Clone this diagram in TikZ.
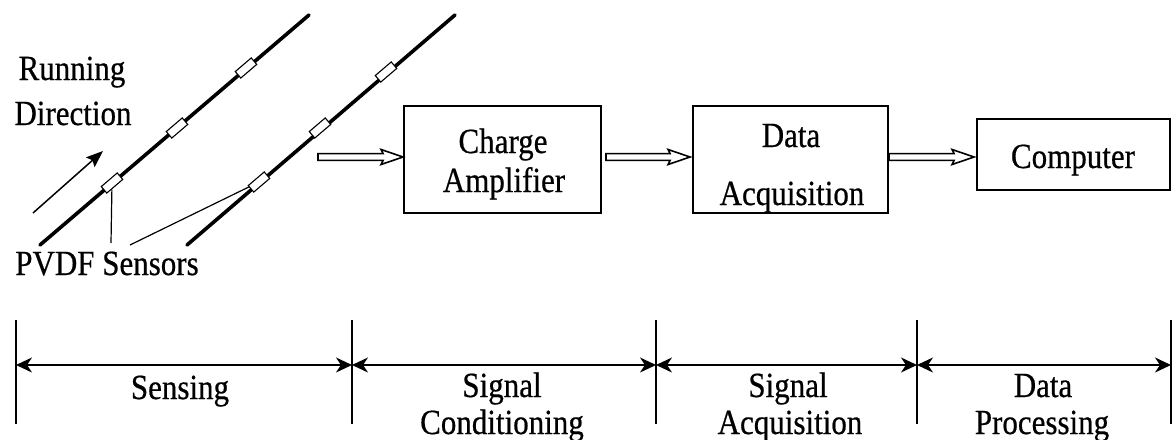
\documentclass[tikz,border=0pt]{standalone}
\usepackage{graphicx}
\usepackage{fontspec}
\setmainfont{Liberation Serif}[FakeBold=0.6]
\usetikzlibrary{arrows.meta,calc}
% labels are set a little taller than the font's natural shape
\newcommand{\tallsans}[1]{\scalebox{1}[1.14]{#1}}
\begin{document}
\begin{tikzpicture}[x=1pt,y=-1pt,
  every node/.style={font=\fontsize{31}{37}\selectfont, inner sep=0pt},
  txt/.style={anchor=base},
  rail/.style={line width=3.6pt, line cap=round},
  sensor/.style={draw, fill=white, line width=1.1pt, minimum width=21pt,
    minimum height=8.5pt, rotate=40.5},
  leader/.style={line width=1.2pt},
  dirarrow/.style={line width=1.5pt, -{Stealth[length=17pt,width=13pt,inset=3pt]}},
  block/.style={draw, line width=1.9pt},
  hollow/.style={line width=1.6pt, fill=white, to path={
    let \p1=(\tikztostart), \p2=(\tikztotarget) in
    (\x1,\y1+3.4pt) -- (\x2-20pt,\y1+3.4pt) -- (\x2-22pt,\y1+7.5pt) -- (\x2,\y1)
    -- (\x2-22pt,\y1-7.5pt) -- (\x2-20pt,\y1-3.4pt) -- (\x1,\y1-3.4pt) -- cycle}},
  tick/.style={line width=2pt},
  span/.style={line width=2pt,
    {Stealth[length=16pt,width=15pt,inset=5pt]}-{Stealth[length=16pt,width=15pt,inset=5pt]}},
]
\useasboundingbox (0,0) rectangle (1175,439);

% rails
\coordinate (r1a) at (40,245);  \coordinate (r1b) at (309,15);
\coordinate (r2a) at (187,245); \coordinate (r2b) at (455,15);
\draw[rail] (r1a) -- (r1b);
\draw[rail] (r2a) -- (r2b);

% PVDF sensors on the rails
\node[sensor] (s11) at (112,183) {};
\node[sensor] (s12) at (177,128) {};
\node[sensor] (s13) at (246,68) {};
\node[sensor] (s21) at (259,182) {};
\node[sensor] (s22) at (320,128) {};
\node[sensor] (s23) at (386,72) {};

% running direction
\node[txt] (run1) at (72,80) {\tallsans{Running}};
\node[txt] (run2) at (73,125) {\tallsans{Direction}};
\coordinate (da0) at (33,213); \coordinate (da1) at (103,151);
\draw[dirarrow] (da0) -- (da1);

% sensor callout
\node[txt] (pvdf) at (107,275) {\tallsans{PVDF Sensors}};
\coordinate (l1) at (111,243);
\coordinate (l2) at (130,245);
\draw[leader] (s11) -- (l1);
\draw[leader] (l2) -- (s21);

% processing chain
\node[block, minimum width=197pt, minimum height=107pt] (ca) at (502.5,159.5) {};
\node[txt] (ca1) at (503,153) {\tallsans{Charge}};
\node[txt] (ca2) at (504,192) {\tallsans{Amplifier}};

\node[block, minimum width=195pt, minimum height=107pt] (dq) at (790.5,159.5) {};
\node[txt] (dq1) at (791,147) {\tallsans{Data}};
\node[txt] (dq2) at (792,205) {\tallsans{Acquisition}};

\node[block, minimum width=193pt, minimum height=71pt] (pc) at (1073.5,154.5) {};
\node[txt] (pc1) at (1073,168) {\tallsans{Computer}};

\coordinate (row) at (0,157);
\coordinate (h1s) at (318,157);
\coordinate (h1e) at (ca.west |- row);
\coordinate (h2s) at ($(ca.east |- row)+(4,0)$);
\coordinate (h2e) at ($(dq.west |- row)+(-2,0)$);
\coordinate (h3s) at (dq.east |- row);
\coordinate (h3e) at ($(pc.west |- row)+(-2,0)$);
\draw[hollow] (h1s) to (h1e);
\draw[hollow] (h2s) to (h2e);
\draw[hollow] (h3s) to (h3e);

% stage spans
\foreach \i/\x in {0/16,1/352,2/656,3/917,4/1171}{
  \coordinate (t\i) at (\x,320);
  \coordinate (b\i) at (\x,424);
  \coordinate (m\i) at (\x,365);
  \draw[tick] (t\i) -- (b\i);
}
\draw[span] (m0) -- (m1);
\draw[span] (m1) -- (m2);
\draw[span] (m2) -- (m3);
\draw[span] (m3) -- (m4);

\node[txt] (st1) at (180,399) {\tallsans{Sensing}};
\node[txt] (st2a) at (502,397) {\tallsans{Signal}};
\node[txt] (st2b) at (502,434) {\tallsans{Conditioning}};
\node[txt] (st3a) at (788,397) {\tallsans{Signal}};
\node[txt] (st3b) at (790,434) {\tallsans{Acquisition}};
\node[txt] (st4a) at (1043,397) {\tallsans{Data}};
\node[txt] (st4b) at (1042,434) {\tallsans{Processing}};
\end{tikzpicture}
\end{document}
